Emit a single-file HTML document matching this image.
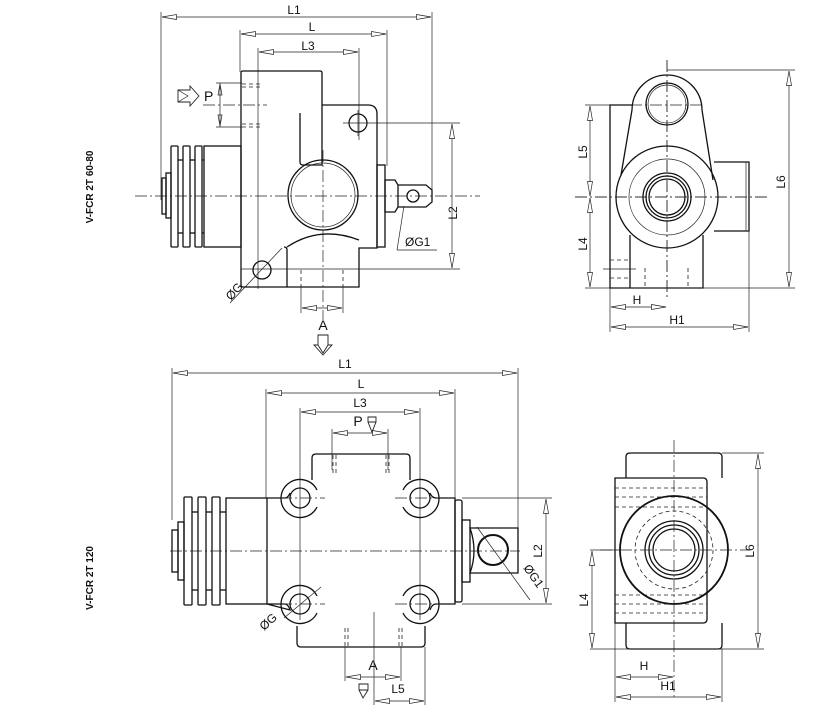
<!DOCTYPE html>
<html><head><meta charset="utf-8"><style>
html,body{margin:0;padding:0;background:#fff;}
svg{display:block;}
text{font-family:"Liberation Sans",sans-serif;fill:#111;}
.o{fill:none;stroke:#111;stroke-width:1.3;}
.t{fill:none;stroke:#222;stroke-width:0.7;}
.c{fill:none;stroke:#222;stroke-width:0.7;stroke-dasharray:12 3 2 3;}
.d{fill:none;stroke:#222;stroke-width:0.8;stroke-dasharray:4 3;}
.dm{fill:none;stroke:#222;stroke-width:0.7;marker-start:url(#a);marker-end:url(#a);}
</style></head><body>
<svg width="827" height="708" viewBox="0 0 827 708" xmlns="http://www.w3.org/2000/svg">
<defs>
<marker id="a" viewBox="0 0 16 6" refX="15.5" refY="3" markerWidth="16" markerHeight="6" orient="auto-start-reverse" markerUnits="userSpaceOnUse">
<path d="M1,0.5 L15.5,3 L1,5.5 Z" fill="#fff" stroke="#222" stroke-width="0.7"/>
</marker>
</defs>

<text transform="translate(93,187) rotate(-90)" font-size="10" font-weight="bold" text-anchor="middle">V-FCR 2T 60-80</text>
<text transform="translate(93,578) rotate(-90)" font-size="10" font-weight="bold" text-anchor="middle">V-FCR 2T 120</text>

<!-- ================= TOP LEFT VIEW ================= -->
<line class="c" x1="135" y1="196" x2="480" y2="196"/>
<line class="c" x1="323" y1="150" x2="323" y2="320"/>
<line class="t" x1="161" y1="12" x2="161" y2="200"/>
<line class="t" x1="432" y1="12" x2="432" y2="190"/>
<line class="dm" x1="162" y1="17" x2="431" y2="17"/>
<text x="294" y="14" font-size="12" text-anchor="middle">L1</text>
<line class="t" x1="240" y1="30" x2="240" y2="72"/>
<line class="t" x1="387" y1="30" x2="387" y2="166"/>
<line class="dm" x1="241" y1="34" x2="386" y2="34"/>
<text x="312" y="31" font-size="12" text-anchor="middle">L</text>
<line class="t" x1="258" y1="48" x2="258" y2="289"/>
<line class="t" x1="359" y1="48" x2="359" y2="140"/>
<line class="dm" x1="259" y1="52" x2="358" y2="52"/>
<text x="308" y="50" font-size="12" text-anchor="middle">L3</text>
<path class="o" d="M241,73 Q241,71 243,71 L320,71 Q322,71 322,73 L322,105 L368,105 Q377,105 377,114 L377,248 L359,248 L359,287 L287,287 L287,250 Q287,247 284,247"/>
<path class="o" d="M287,287 L243,287 Q241,287 241,285 L241,73"/>
<path class="o" d="M287,247 Q320,225 359,240"/>
<path class="o" d="M300,113 L300,162 Q300,165 303,165 L322,165 L322,105"/>
<circle class="o" cx="323" cy="195" r="35"/>
<circle class="t" cx="323" cy="195" r="32"/>
<circle class="o" cx="358" cy="123" r="9"/>
<line class="t" x1="343" y1="123" x2="460" y2="123"/>
<line class="t" x1="358" y1="110" x2="358" y2="136"/>
<line class="d" x1="242" y1="84" x2="262" y2="84"/>
<line class="d" x1="242" y1="87" x2="262" y2="87"/>
<line class="d" x1="242" y1="124" x2="262" y2="124"/>
<line class="d" x1="242" y1="127" x2="262" y2="127"/>
<line class="t" x1="216" y1="83" x2="242" y2="83"/>
<line class="t" x1="216" y1="127" x2="242" y2="127"/>
<line class="c" x1="203" y1="105" x2="267" y2="105"/>
<line class="t" x1="220" y1="83" x2="220" y2="127"/>
<path class="t" d="M220,84 L218,95 L222,95 Z M220,126 L218,115 L222,115 Z" fill="#fff"/>
<path class="t" d="M178,90 L190,90 L190,86 L199,96 L190,106 L190,102 L178,102 Z" style="stroke-width:0.9"/>
<path class="t" d="M178,90 L188,96 L178,102" />
<text x="204" y="101" font-size="14">P</text>
<rect class="o" x="204" y="146" width="37" height="101"/>
<rect class="o" x="171" y="146" width="7" height="101" rx="1"/>
<rect class="o" x="183" y="146" width="7" height="101" rx="1"/>
<rect class="o" x="195" y="146" width="7" height="101" rx="1"/>
<line class="o" x1="178" y1="160" x2="183" y2="160"/><line class="o" x1="178" y1="233" x2="183" y2="233"/>
<line class="o" x1="190" y1="160" x2="195" y2="160"/><line class="o" x1="190" y1="233" x2="195" y2="233"/>
<line class="o" x1="202" y1="160" x2="204" y2="160"/><line class="o" x1="202" y1="233" x2="204" y2="233"/>
<rect class="o" x="166" y="173" width="5" height="45"/>
<rect class="o" x="162" y="178" width="4" height="36"/>
<rect class="o" x="377" y="165" width="8" height="82"/>
<path class="o" d="M385,180 L395,180 L398,185 L398,207 L395,212 L385,212 Z"/>
<path class="o" d="M398,185 L426,185 L432,190 L432,202 L426,207 L398,207"/>
<circle class="o" cx="413" cy="196" r="6"/>
<line class="t" x1="404" y1="206" x2="397" y2="250"/>
<line class="t" x1="397" y1="250" x2="437" y2="250"/>
<text x="405" y="246" font-size="12">ØG1</text>
<line class="t" x1="241" y1="269" x2="460" y2="269"/>
<line class="dm" x1="452" y1="124" x2="452" y2="268"/>
<text transform="translate(457,213) rotate(-90)" font-size="12" text-anchor="middle">L2</text>
<circle class="o" cx="262" cy="270" r="9"/>
<line class="t" x1="230" y1="303" x2="282" y2="248"/>
<text transform="translate(231,301) rotate(-48)" font-size="12">ØG</text>
<line class="d" x1="301" y1="270" x2="301" y2="287"/>
<line class="d" x1="343" y1="270" x2="343" y2="287"/>
<line class="t" x1="301" y1="287" x2="301" y2="313"/>
<line class="t" x1="343" y1="287" x2="343" y2="313"/>
<line class="dm" x1="302" y1="308" x2="342" y2="308"/>
<text x="323" y="330" font-size="14" text-anchor="middle">A</text>
<path class="t" d="M318,335 L318,345 L314,345 L323,355 L332,345 L328,345 L328,335 Z M318,345 L323,353 L328,345" style="stroke-width:0.9"/>

<!-- ================= TOP RIGHT VIEW ================= -->
<line class="c" x1="667" y1="60" x2="667" y2="300"/>
<line class="c" x1="575" y1="197" x2="770" y2="197"/>
<line class="c" x1="630" y1="105" x2="705" y2="105"/>
<path class="o" d="M632,110 A35,35 0 0 1 702,110 L713,180 M632,110 L621,175"/>
<circle class="o" cx="667" cy="104" r="21"/>
<circle class="t" cx="667" cy="104" r="19"/>
<path class="o" d="M632,105 L610,105 L610,288 L703,288 L703,235"/>
<line class="o" x1="630" y1="235" x2="630" y2="288"/>
<circle class="o" cx="667" cy="197" r="51" fill="#fff"/>
<circle class="t" cx="667" cy="197" r="38"/>
<circle class="o" cx="667" cy="197" r="24"/>
<circle class="o" cx="667" cy="197" r="21"/>
<circle class="o" cx="667" cy="197" r="18"/>
<line class="c" x1="575" y1="197" x2="770" y2="197"/>
<line class="c" x1="667" y1="60" x2="667" y2="300"/>
<path class="o" d="M714,162 L749,162 L749,231 L714,231"/>
<line class="t" x1="746" y1="162" x2="746" y2="231"/>
<line class="d" x1="610" y1="260" x2="630" y2="260"/>
<line class="d" x1="610" y1="278" x2="630" y2="278"/>
<line class="t" x1="603" y1="269" x2="636" y2="269"/>
<line class="d" x1="645" y1="268" x2="645" y2="288"/>
<line class="d" x1="688" y1="268" x2="688" y2="288"/>
<line class="t" x1="585" y1="105" x2="610" y2="105"/>
<line class="t" x1="585" y1="288" x2="795" y2="288"/>
<line class="dm" x1="590" y1="106" x2="590" y2="196"/>
<line class="dm" x1="590" y1="198" x2="590" y2="287"/>
<text transform="translate(587,152) rotate(-90)" font-size="12" text-anchor="middle">L5</text>
<text transform="translate(587,244) rotate(-90)" font-size="12" text-anchor="middle">L4</text>
<line class="t" x1="667" y1="70" x2="795" y2="70"/>
<line class="dm" x1="789" y1="71" x2="789" y2="287"/>
<text transform="translate(785,182) rotate(-90)" font-size="12" text-anchor="middle">L6</text>
<line class="t" x1="610" y1="288" x2="610" y2="332"/>
<line class="t" x1="749" y1="231" x2="749" y2="332"/>
<line class="dm" x1="611" y1="307" x2="666" y2="307"/>
<text x="637" y="304" font-size="12" text-anchor="middle">H</text>
<line class="dm" x1="611" y1="327" x2="748" y2="327"/>
<text x="677" y="324" font-size="12" text-anchor="middle">H1</text>

<!-- ================= BOTTOM LEFT VIEW ================= -->
<line class="c" x1="170" y1="551" x2="520" y2="551"/>
<line class="t" x1="172" y1="368" x2="172" y2="520"/>
<line class="t" x1="518" y1="368" x2="518" y2="530"/>
<line class="dm" x1="173" y1="373" x2="517" y2="373"/>
<text x="345" y="368" font-size="12" text-anchor="middle">L1</text>
<line class="t" x1="266" y1="389" x2="266" y2="498"/>
<line class="t" x1="455" y1="389" x2="455" y2="498"/>
<line class="dm" x1="267" y1="393" x2="454" y2="393"/>
<text x="361" y="388" font-size="12" text-anchor="middle">L</text>
<line class="t" x1="300" y1="408" x2="300" y2="620"/>
<line class="t" x1="420" y1="408" x2="420" y2="620"/>
<line class="dm" x1="301" y1="412" x2="419" y2="412"/>
<text x="360" y="407" font-size="12" text-anchor="middle">L3</text>
<line class="t" x1="332" y1="429" x2="332" y2="470"/>
<line class="t" x1="388" y1="429" x2="388" y2="470"/>
<line class="dm" x1="333" y1="433" x2="387" y2="433"/>
<text x="358" y="426" font-size="14" text-anchor="middle">P</text>
<path class="t" d="M368,417 L376,417 L376,422 L372,432 L368,422 Z M368,422 L376,422" style="stroke-width:0.9"/>
<path class="o" d="M267,498 L285,498 Q288,498 290,493 M312,480 L312,458 Q312,454 316,454 L406,454 Q410,454 410,458 L410,480 M430,493 Q432,498 436,498 L455,498 L455,604 L436,604 Q432,604 430,610 M425,626 L425,643 Q425,647 421,647 L301,647 Q297,647 297,643 L297,626 M290,610 Q288,604 285,604 L267,604 Z"/>
<circle class="o" cx="300" cy="498" r="10"/><path class="o" d="M317,490 A19,19 0 1 0 317,507"/>
<circle class="o" cx="420" cy="498" r="10"/><path class="o" d="M403,490 A19,19 0 1 1 403,507"/>
<circle class="o" cx="300" cy="604" r="10"/><path class="o" d="M317,596 A19,19 0 1 0 317,613"/>
<circle class="o" cx="420" cy="604" r="10"/><path class="o" d="M403,596 A19,19 0 1 1 403,613"/>
<line class="c" x1="280" y1="498" x2="325" y2="498"/><line class="c" x1="395" y1="498" x2="440" y2="498"/>
<line class="c" x1="280" y1="604" x2="325" y2="604"/><line class="c" x1="395" y1="604" x2="440" y2="604"/>
<line class="d" x1="333" y1="455" x2="333" y2="474"/><line class="d" x1="336" y1="455" x2="336" y2="474"/>
<line class="d" x1="386" y1="455" x2="386" y2="474"/><line class="d" x1="389" y1="455" x2="389" y2="474"/>
<line class="d" x1="345" y1="628" x2="345" y2="647"/><line class="d" x1="348" y1="628" x2="348" y2="647"/>
<line class="d" x1="399" y1="628" x2="399" y2="647"/><line class="d" x1="402" y1="628" x2="402" y2="647"/>
<rect class="o" x="226" y="498" width="41" height="106"/>
<rect class="o" x="184" y="497" width="8" height="108" rx="1"/>
<rect class="o" x="198" y="497" width="8" height="108" rx="1"/>
<rect class="o" x="212" y="497" width="8" height="108" rx="1"/>
<line class="o" x1="192" y1="512" x2="198" y2="512"/><line class="o" x1="192" y1="590" x2="198" y2="590"/>
<line class="o" x1="206" y1="512" x2="212" y2="512"/><line class="o" x1="206" y1="590" x2="212" y2="590"/>
<line class="o" x1="220" y1="512" x2="226" y2="512"/><line class="o" x1="220" y1="590" x2="226" y2="590"/>
<rect class="o" x="178" y="522" width="6" height="58"/>
<rect class="o" x="172" y="530" width="6" height="42"/>
<rect class="o" x="455" y="500" width="7" height="102" rx="2"/>
<rect class="o" x="462" y="520" width="8" height="62"/>
<path class="o" d="M470,528 L518,528 L518,573 L470,573 Q478,551 470,528 Z"/>
<circle class="o" cx="493" cy="550" r="15" style="stroke-width:2"/>
<line class="t" x1="477" y1="527" x2="530" y2="600"/>
<text transform="translate(523,568) rotate(55)" font-size="12">ØG1</text>
<line class="t" x1="462" y1="498" x2="552" y2="498"/>
<line class="t" x1="462" y1="604" x2="552" y2="604"/>
<line class="dm" x1="546" y1="499" x2="546" y2="603"/>
<text transform="translate(542,551) rotate(-90)" font-size="12" text-anchor="middle">L2</text>
<line class="t" x1="284" y1="618" x2="321" y2="587"/>
<text transform="translate(264,631) rotate(-42)" font-size="12">ØG</text>
<line class="t" x1="374" y1="612" x2="374" y2="705"/>
<text x="373" y="670" font-size="14" text-anchor="middle">A</text>
<line class="t" x1="345" y1="647" x2="345" y2="681"/>
<line class="t" x1="401" y1="647" x2="401" y2="681"/>
<line class="dm" x1="346" y1="677" x2="400" y2="677"/>
<line class="t" x1="425" y1="647" x2="425" y2="705"/>
<line class="dm" x1="375" y1="701" x2="424" y2="701"/>
<text x="398" y="693" font-size="12" text-anchor="middle">L5</text>
<path class="t" d="M359,684 L368,684 L368,690 L363,698 L359,690 Z M359,690 L368,690" style="stroke-width:0.9"/>

<!-- ================= BOTTOM RIGHT VIEW ================= -->
<path class="o" d="M626,478 L626,457 Q626,453 630,453 L718,453 Q722,453 722,457 L722,478 M722,623 L722,645 Q722,649 718,649 L630,649 Q626,649 626,645 L626,623"/>
<path class="o" d="M615,478 L703,478 Q707,478 707,482 L707,619 Q707,623 703,623 L615,623 Z"/>
<line class="d" x1="615" y1="488" x2="707" y2="488"/>
<line class="d" x1="615" y1="497" x2="707" y2="497"/>
<line class="d" x1="615" y1="507" x2="707" y2="507"/>
<line class="d" x1="615" y1="595" x2="707" y2="595"/>
<line class="d" x1="615" y1="604" x2="707" y2="604"/>
<line class="d" x1="615" y1="613" x2="707" y2="613"/>
<circle class="o" cx="674" cy="550" r="54" fill="#fff" style="stroke-width:1.8"/>
<circle class="d" cx="674" cy="550" r="39"/>
<circle class="o" cx="674" cy="550" r="29"/>
<circle class="o" cx="674" cy="550" r="25"/>
<circle class="o" cx="674" cy="550" r="21"/>
<line class="c" x1="600" y1="550" x2="750" y2="550"/>
<line class="c" x1="674" y1="440" x2="674" y2="700"/>
<line class="t" x1="722" y1="453" x2="764" y2="453"/>
<line class="t" x1="590" y1="649" x2="764" y2="649"/>
<line class="dm" x1="758" y1="454" x2="758" y2="648"/>
<text transform="translate(754,551) rotate(-90)" font-size="12" text-anchor="middle">L6</text>
<line class="t" x1="590" y1="550" x2="620" y2="550"/>
<line class="dm" x1="592" y1="551" x2="592" y2="648"/>
<text transform="translate(588,600) rotate(-90)" font-size="12" text-anchor="middle">L4</text>
<line class="t" x1="615" y1="623" x2="615" y2="702"/>
<line class="t" x1="722" y1="649" x2="722" y2="702"/>
<line class="dm" x1="616" y1="677" x2="673" y2="677"/>
<text x="644" y="670" font-size="12" text-anchor="middle">H</text>
<line class="dm" x1="616" y1="697" x2="721" y2="697"/>
<text x="668" y="690" font-size="12" text-anchor="middle">H1</text>
</svg>
</body></html>
